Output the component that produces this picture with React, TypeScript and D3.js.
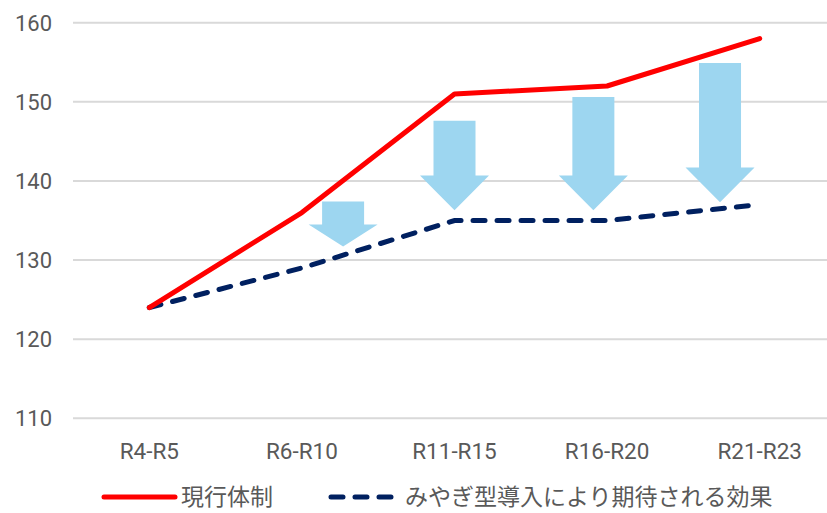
import React from "react";
import * as d3 from "d3";

const categories = ["R4-R5", "R6-R10", "R11-R15", "R16-R20", "R21-R23"];
const currentValues = [124, 136, 151, 152, 158];
const miyagiValues = [124, 129, 135, 135, 137];
const yTicks = [110, 120, 130, 140, 150, 160];
// arrows: position in category index units, top / head base / tip in value units
const arrowPos = [1.27, 2.0, 2.91, 3.74];
const arrowTop = [137.4, 147.6, 150.6, 154.9];
const arrowHead = [134.5, 140.7, 140.7, 141.7];
const arrowTip = [131.7, 136.3, 136.3, 137.3];
const legendLabels = ["現行体制", "みやぎ型導入により期待される効果"];

const W = 827;
const H = 513;

export default function App() {
  const x = d3.scaleLinear().domain([-0.5, 4.5]).range([73, 836]);
  const y = d3.scaleLinear().domain([110, 160]).range([418.3, 22.7]);
  const line = d3
    .line<number>()
    .x((_, i) => x(i))
    .y((d) => y(d));
  const font = "Roboto, 'Noto Sans', sans-serif";
  const jfont = "'Noto Sans CJK JP', 'Noto Sans', sans-serif";
  const textColor = "#595959";

  return (
    <svg
      width={W}
      height={H}
      style={{ position: "absolute", left: 0, top: 0, background: "#fff" }}
    >
      {yTicks.map((t) => (
        <g key={t}>
          <line x1={73} x2={836} y1={y(t)} y2={y(t)} stroke="#d9d9d9" strokeWidth={2} />
          <text
            x={52}
            y={y(t)}
            dy="0.36em"
            textAnchor="end"
            fontFamily={font}
            fontSize={22}
            fill={textColor}
          >
            {t}
          </text>
        </g>
      ))}
      {categories.map((c, i) => (
        <text
          key={c}
          x={x(i)}
          y={459}
          textAnchor="middle"
          fontFamily={font}
          fontSize={22.5}
          fill={textColor}
        >
          {c}
        </text>
      ))}
      {arrowPos.map((p, i) => {
        const cx = x(p);
        const sw = 21;
        const hw = 34.5;
        const pts = [
          [cx - sw, y(arrowTop[i])],
          [cx + sw, y(arrowTop[i])],
          [cx + sw, y(arrowHead[i])],
          [cx + hw, y(arrowHead[i])],
          [cx, y(arrowTip[i])],
          [cx - hw, y(arrowHead[i])],
          [cx - sw, y(arrowHead[i])],
        ];
        return (
          <polygon key={i} points={pts.map((q) => q.join(",")).join(" ")} fill="#9dd6f0" />
        );
      })}
      <path
        d={line(miyagiValues) || ""}
        fill="none"
        stroke="#002060"
        strokeWidth={5}
        strokeDasharray="12,12"
        strokeLinecap="round"
      />
      <path
        d={line(currentValues) || ""}
        fill="none"
        stroke="#ff0000"
        strokeWidth={5}
        strokeLinecap="round"
        strokeLinejoin="round"
      />
      <g>
        <line x1={104} x2={175} y1={497} y2={497} stroke="#ff0000" strokeWidth={5} strokeLinecap="round" />
        <text x={181} y={505} fontFamily={jfont} fontSize={23} fill={textColor}>
          {legendLabels[0]}
        </text>
        <line
          x1={331}
          x2={392}
          y1={497}
          y2={497}
          stroke="#002060"
          strokeWidth={5}
          strokeDasharray="12,12"
          strokeLinecap="round"
        />
        <text x={405} y={505} fontFamily={jfont} fontSize={23} fill={textColor}>
          {legendLabels[1]}
        </text>
      </g>
    </svg>
  );
}
